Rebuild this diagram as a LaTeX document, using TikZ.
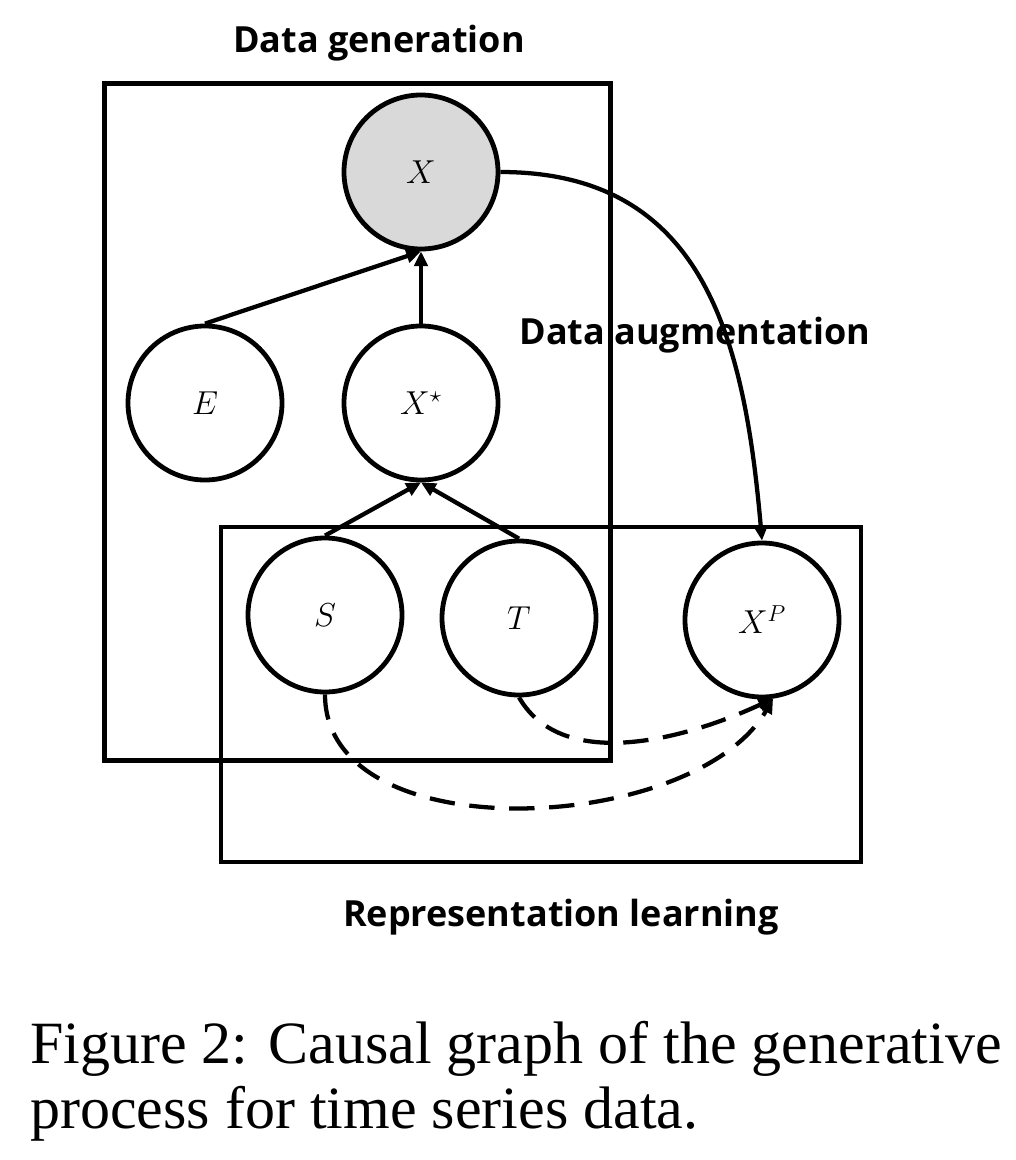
\documentclass[tikz,border=0pt]{standalone}
\usepackage{fontspec}
\setmainfont{Liberation Serif}
\newfontfamily\labfont{Open Sans}
\usetikzlibrary{arrows.meta}
\definecolor{nodegray}{HTML}{D9D9D9}
\begin{document}
\begin{tikzpicture}[x=0.75pt,y=-0.75pt,
  var/.style={circle,draw=black,line width=3.6pt,minimum size=115.5pt,inner sep=0pt,fill=white,font=\fontsize{26}{30}\selectfont},
  obs/.style={var,fill=nodegray},
  arr/.style={line width=3.2pt,-{Triangle[length=11pt,width=10pt]}},
  darr/.style={arr,dash pattern=on 19pt off 11pt},
  box/.style={draw=black,line width=3.6pt},
  ttl/.style={font=\labfont\bfseries\fontsize{27}{32}\selectfont,inner sep=0pt},
  captext/.style={font=\fontsize{45}{50}\selectfont,inner sep=0pt,anchor=base west}
]
\useasboundingbox (0,0) rectangle (1016,1160);
% boxes
\draw[box] (104.5,83.5) rectangle (610.5,760.5);
\draw[box] (221,527) rectangle (861,862);
% nodes
\node[obs] (X) at (421,172) {$X$};
\node[var] (E) at (205,403) {$E$};
\node[var] (Xs) at (421,403) {$X^{\star}$};
\node[var] (S) at (325,615) {$S$};
\node[var] (T) at (519,618) {$T$};
\node[var] (XP) at (762,620) {$X^{P}$};
% edges
\draw[arr] (E.north) -- (X.south);
\draw[arr] (Xs.north) -- (X.south);
\draw[arr] (S.north) -- (Xs.south);
\draw[arr] (T.north) -- (Xs.south);
\draw[arr] (X.east) to[out=0,in=95,looseness=1.15] (XP.north);
\draw[darr] (S.south) to[out=-90,in=-120,looseness=0.9] (XP.-82);
\draw[darr] (T.south) to[out=-60,in=-155,looseness=0.9] (XP.-82);
% titles
\node[ttl] (tgen) at (379,43) {Data generation};
\node[ttl] (taug) at (695,335) {Data augmentation};
\node[ttl] (trep) at (561,917) {Representation learning};
% caption
\node[captext] (cap1) at (30,1063) {Figure 2: Causal graph of the generative};
\node[captext] (cap2) at (30,1128) {process for time series data.};
\end{tikzpicture}
\end{document}
